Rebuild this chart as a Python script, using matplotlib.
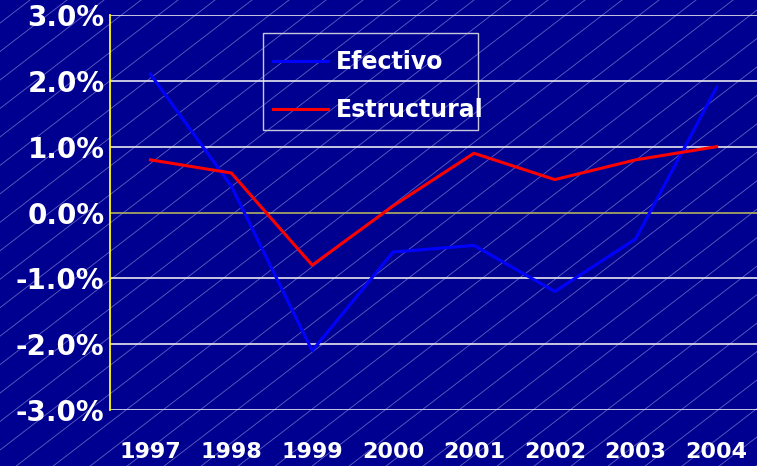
import matplotlib
matplotlib.use("Agg")
import matplotlib.pyplot as plt
from matplotlib.patches import Rectangle
import matplotlib.transforms as mtransforms
import numpy as np

years = ["1997", "1998", "1999", "2000", "2001", "2002", "2003", "2004"]
efectivo = [2.1, 0.4, -2.1, -0.6, -0.5, -1.2, -0.4, 1.9]
estructural = [0.8, 0.6, -0.8, 0.1, 0.9, 0.5, 0.8, 1.0]
yticks = [-3, -2, -1, 0, 1, 2, 3]
ytick_labels = ["-3.0%", "-2.0%", "-1.0%", "0.0%", "1.0%", "2.0%", "3.0%"]

W, H = 757, 466
bg = "#000090"
fig = plt.figure(figsize=(W / 100, H / 100), dpi=100, facecolor=bg)

# background hatch
bax = fig.add_axes([0, 0, 1, 1], zorder=0)
bax.set_xlim(0, W)
bax.set_ylim(0, H)
bax.axis("off")
bax.set_facecolor(bg)
for c in np.arange(53.2 - 37 * 20, W + 37, 37):
    bax.plot([c, c + 1.3 * H], [0, H], color="#8a8ad8", lw=0.6, alpha=0.7)

ax = fig.add_axes([110 / W, 56 / H, 1 - 110 / W, (410 - 15) / H], zorder=1)
ax.patch.set_alpha(0)
x = np.arange(len(years))
ax.set_xlim(-0.5, len(years) - 0.5)
ax.set_ylim(-3, 3)

for t in yticks:
    col = "#b0b060" if t == 0 else "#e8e8f0"
    ax.axhline(t, color=col, lw=1.2, zorder=1)

ax.plot(x, efectivo, color="#0000ff", lw=2.2, label="Efectivo", zorder=3)
ax.plot(x, estructural, color="#ff0000", lw=2.2, label="Estructural", zorder=3)

for s in ["top", "right", "bottom"]:
    ax.spines[s].set_visible(False)
ax.spines["left"].set_color("#ffff00")
ax.spines["left"].set_linewidth(1.3)

ax.set_yticks(yticks)
ax.set_yticklabels(ytick_labels, fontsize=20, fontweight="bold", color="white")
offset = mtransforms.ScaledTranslation(0, -3 / 100, fig.dpi_scale_trans)
for lbl in ax.get_yticklabels():
    lbl.set_transform(lbl.get_transform() + offset)
ax.set_xticks(x)
ax.set_xticklabels(years, fontsize=16, fontweight="bold", color="white")
ax.tick_params(axis="y", length=0, pad=4)
ax.tick_params(axis="x", length=0, pad=23)

# legend frame
bax.add_patch(Rectangle((263, H - 130), 215, 97, fill=False, edgecolor="#c8c8dc", lw=1.0, zorder=2))
leg = ax.legend(loc="upper left", bbox_to_anchor=(273 / W, (H - 50) / H),
                bbox_transform=fig.transFigure,
                frameon=False, prop={"weight": "bold", "size": 17},
                handlelength=2.35, borderpad=0, borderaxespad=0,
                labelspacing=1.03, handletextpad=0.3)
for t in leg.get_texts():
    t.set_color("white")

fig.savefig("out.png", dpi=100, facecolor=bg)
